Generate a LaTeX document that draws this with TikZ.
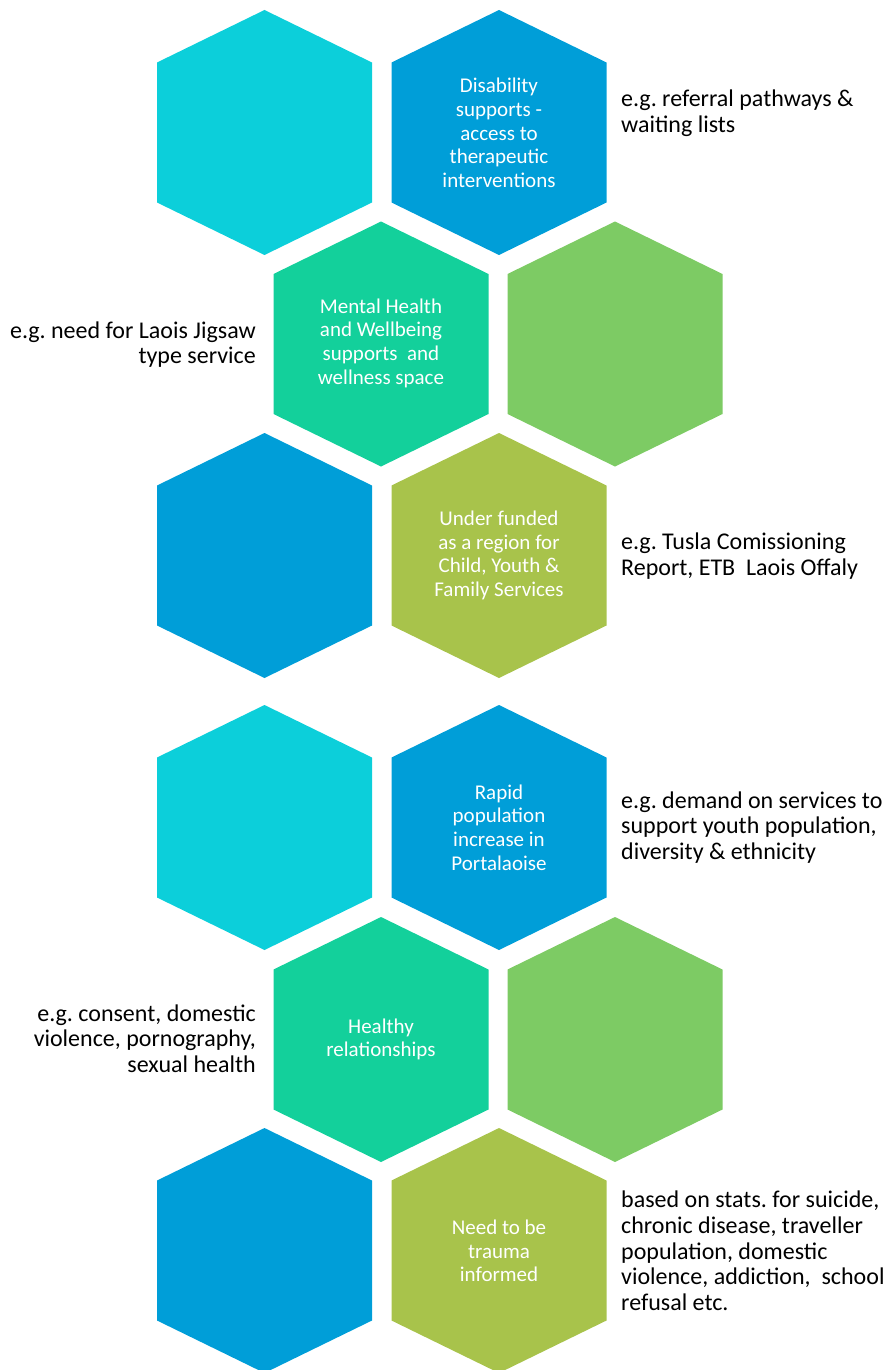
\documentclass[tikz,border=0pt]{standalone}
\usepackage{fontspec}
\setmainfont{Carlito}
\frenchspacing
\definecolor{hcyan}{RGB}{12,207,218}
\definecolor{hblue}{RGB}{0,158,216}
\definecolor{hteal}{RGB}{19,208,155}
\definecolor{hgreen}{RGB}{125,203,100}
\definecolor{holive}{RGB}{168,195,75}
\tikzset{
  hextext/.style={text=white, align=center, font=\fontsize{21}{23.7}\selectfont, inner sep=0pt},
  sideright/.style={text=black, align=left, anchor=west, font=\fontsize{24}{25.7}\selectfont, inner sep=0pt},
  sideleft/.style={text=black, align=right, anchor=east, font=\fontsize{24}{25.7}\selectfont, inner sep=0pt},
}
\newcommand{\hexcell}[3]{\fill[#3] (#1,#2) ++(0,-122.5) -- ++(107.5,52.5) -- ++(0,140) -- ++(-107.5,52.5) -- ++(-107.5,-52.5) -- ++(0,-140) -- cycle;}
\begin{document}
\begin{tikzpicture}[x=1pt,y=-1pt]
\useasboundingbox (0,0) rectangle (888,1370);
% group 1
\hexcell{264.5}{132.5}{hcyan}
\hexcell{499}{132.5}{hblue}
\hexcell{381}{344}{hteal}
\hexcell{615}{344}{hgreen}
\hexcell{264.5}{555.5}{hblue}
\hexcell{499}{555.5}{holive}
% group 2
\hexcell{264.5}{827.5}{hcyan}
\hexcell{499}{827.5}{hblue}
\hexcell{381}{1039.5}{hteal}
\hexcell{615}{1039.5}{hgreen}
\hexcell{264.5}{1250.5}{hblue}
\hexcell{499}{1250.5}{holive}

\node[hextext] (t1) at (499,133) {Disability\\supports -\\access to\\therapeutic\\interventions};
\node[hextext] (t2) at (381,343) {Mental Health\\and Wellbeing\\supports\ \ and\\wellness space};
\node[hextext] (t3) at (499,555.5) {Under funded\\as a region for\\Child, Youth \&\\Family Services};
\node[hextext] (t4) at (499,827.5) {Rapid\\population\\increase in\\Portalaoise};
\node[hextext] (t5) at (381,1039.5) {Healthy\\relationships};
\node[hextext] (t6) at (499,1251) {Need to be\\trauma\\informed};

\node[sideright] (s1) at (621,113) {e.g. referral pathways \&\\waiting lists};
\node[sideleft] (s2) at (256,344.5) {e.g. need for Laois Jigsaw\\type service};
\node[sideright] (s3) at (621,556) {e.g. Tusla Comissioning\\Report, ETB\ \ Laois Offaly};
\node[sideright] (s4) at (621,827.5) {e.g. demand on services to\\support youth population,\\diversity \& ethnicity};
\node[sideleft] (s5) at (256,1038.5) {e.g. consent, domestic\\violence, pornography,\\sexual health};
\node[sideright] (s6) at (621,1251) {based on stats. for suicide,\\chronic disease, traveller\\population, domestic\\violence, addiction,\ \ school\\refusal etc.};
\end{tikzpicture}
\end{document}
